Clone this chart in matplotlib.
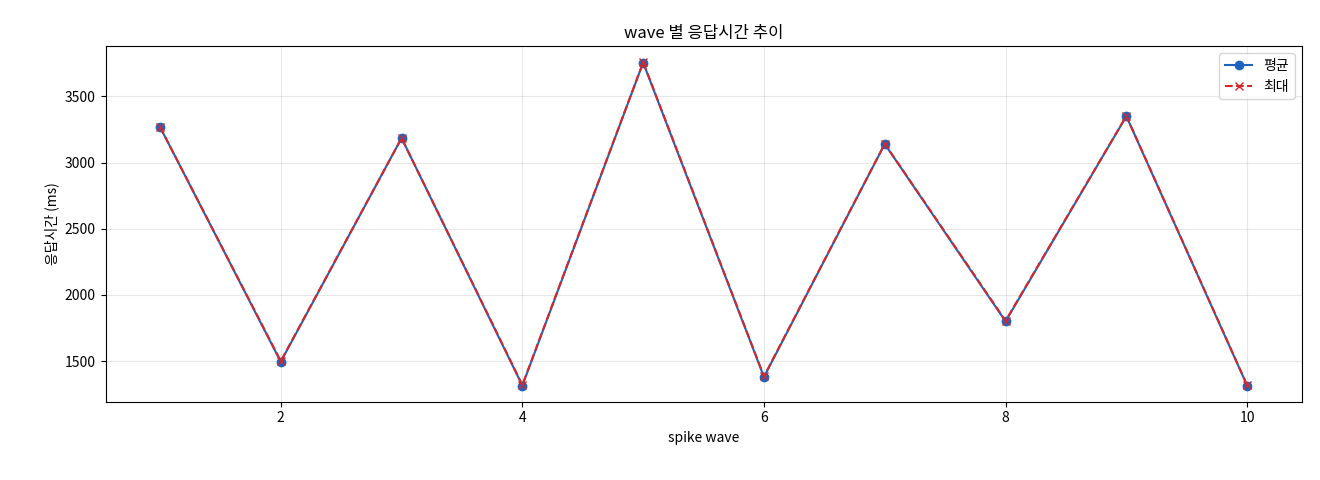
import matplotlib
matplotlib.use("Agg")
import matplotlib.pyplot as plt

plt.rcParams['font.family'] = ['Noto Sans CJK KR', 'DejaVu Sans']

waves = [1, 2, 3, 4, 5, 6, 7, 8, 9, 10]
avg_ms = [3270, 1495, 3185, 1315, 3755, 1380, 3140, 1800, 3350, 1315]
max_ms = [3270, 1500, 3185, 1320, 3758, 1385, 3142, 1805, 3352, 1318]

fig = plt.figure(figsize=(13.2, 4.8), dpi=100)
ax = fig.add_axes([0.08, 0.163, 0.906, 0.741])
ax.plot(waves, avg_ms, "-o", color="#1f63c0", lw=1.5, ms=6, label="평균")
ax.plot(waves, max_ms, "--x", color="#d62728", lw=1.5, ms=6, label="최대")
ax.set_title("wave 별 응답시간 추이", fontsize=12)
ax.set_xlabel("spike wave", fontsize=10)
ax.set_ylabel("응답시간 (ms)", fontsize=10)
ax.set_xticks([2, 4, 6, 8, 10])
ax.set_yticks([1500, 2000, 2500, 3000, 3500])
ax.grid(alpha=0.3)
ax.legend(loc="upper right")
fig.savefig("out.png", dpi=100)
